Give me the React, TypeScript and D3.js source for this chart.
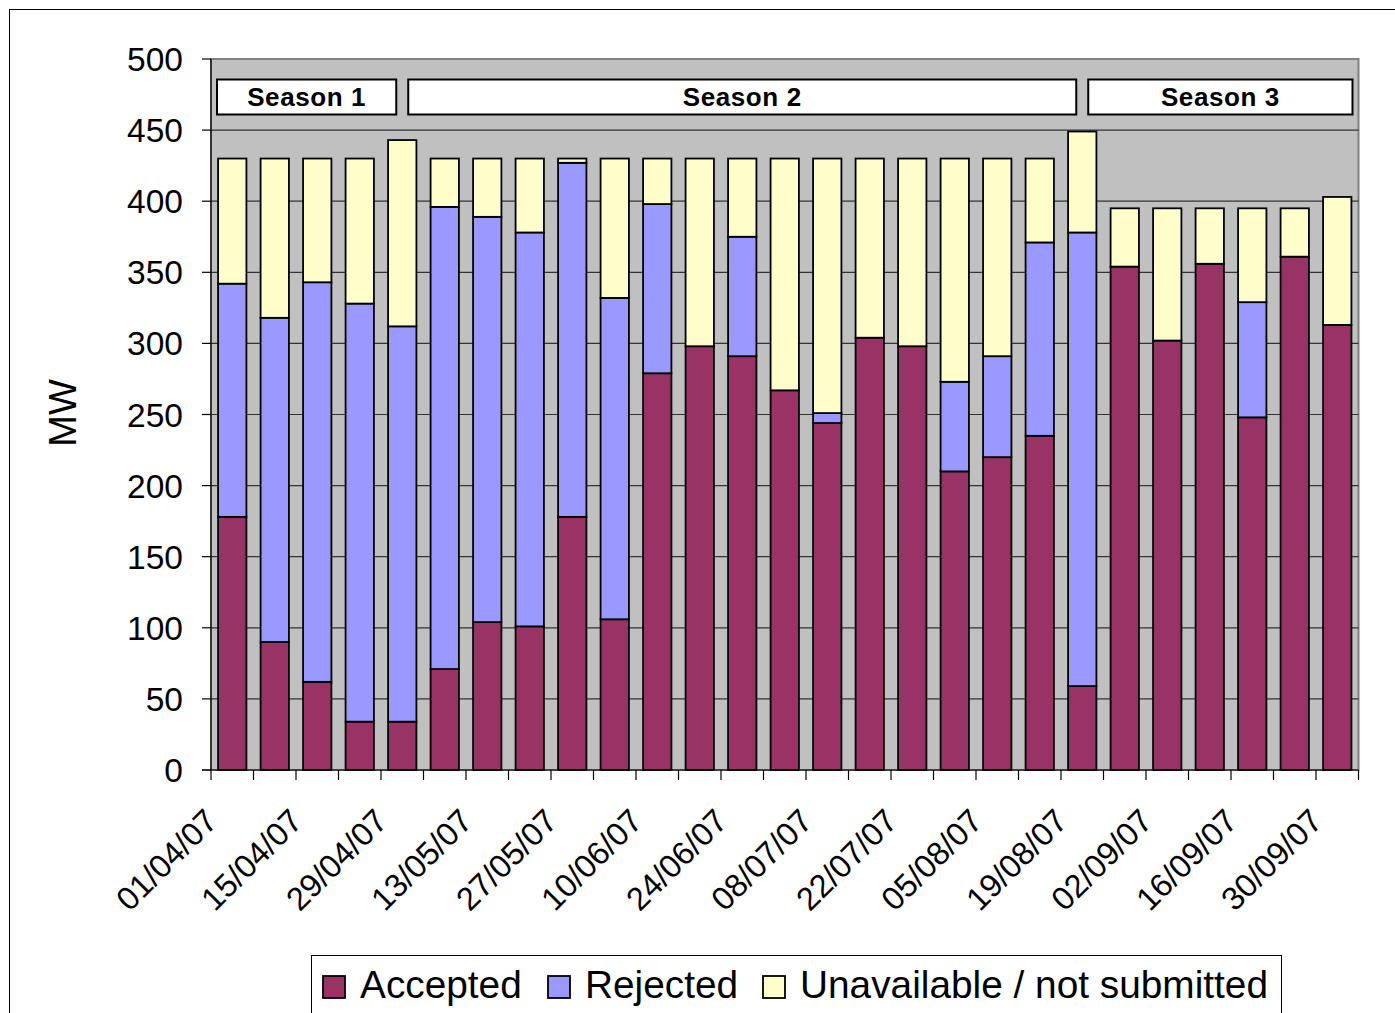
import React from "react";
import * as d3 from "d3";

const weeks = [
  "01/04/07", "08/04/07", "15/04/07", "22/04/07", "29/04/07", "06/05/07", "13/05/07",
  "20/05/07", "27/05/07", "03/06/07", "10/06/07", "17/06/07", "24/06/07", "01/07/07",
  "08/07/07", "15/07/07", "22/07/07", "29/07/07", "05/08/07", "12/08/07", "19/08/07",
  "26/08/07", "02/09/07", "09/09/07", "16/09/07", "23/09/07", "30/09/07",
];
const accepted = [178, 90, 62, 34, 34, 71, 104, 101, 178, 106, 279, 298, 291, 267, 244, 304, 298, 210, 220, 235, 59, 354, 302, 356, 248, 361, 313];
const rejected = [164, 228, 281, 294, 278, 325, 285, 277, 249, 226, 119, 0, 84, 0, 7, 0, 0, 63, 71, 136, 319, 0, 0, 0, 81, 0, 0];
const totals = [430, 430, 430, 430, 443, 430, 430, 430, 430, 430, 430, 430, 430, 430, 430, 430, 430, 430, 430, 430, 449, 395, 395, 395, 395, 395, 403];
const yTicks = [0, 50, 100, 150, 200, 250, 300, 350, 400, 450, 500];
const seasons = [
  { label: "Season 1", from: 0, to: 4.5 },
  { label: "Season 2", from: 4.5, to: 20.5 },
  { label: "Season 3", from: 20.5, to: 27 },
];
const seriesNames = ["Accepted", "Rejected", "Unavailable / not submitted"];
const seriesColors = ["#993366", "#9999FF", "#FFFFCC"];

const FONT = "'Liberation Sans', Arial, Helvetica, sans-serif";

export default function App() {
  const W = 1395, H = 1013;
  const left = 211, right = 1358.5, top = 59, bottom = 770;

  const rows = weeks.map((w, i) => ({
    week: w,
    Accepted: accepted[i],
    Rejected: rejected[i],
    Unavailable: totals[i] - accepted[i] - rejected[i],
  }));
  const stack = d3.stack<any>().keys(["Accepted", "Rejected", "Unavailable"]);
  const layers = stack(rows);

  const x = d3.scaleBand<string>().domain(weeks).range([left, right]).paddingInner(1 / 3).paddingOuter(1 / 6);
  const xLin = d3.scaleLinear().domain([0, weeks.length]).range([left, right]);
  const y = d3.scaleLinear().domain([0, 500]).range([bottom, top]);

  const legendX = [323, 548, 763];

  return (
    <svg width={W} height={H} style={{ position: "absolute", left: 0, top: 0, background: "#fff" }} fontFamily={FONT}>
      <rect x={9.5} y={9.5} width={W + 20} height={H + 20} fill="#fff" stroke="#000" strokeWidth={1} />
      {/* plot area */}
      <rect x={left} y={top} width={right - left} height={bottom - top} fill="#C0C0C0" stroke="#808080" strokeWidth={2} />
      {/* gridlines */}
      {yTicks.filter((t) => t > 0 && t < 500).map((t) => (
        <line key={t} x1={left} x2={right} y1={y(t)} y2={y(t)} stroke="#333" strokeWidth={1.2} />
      ))}
      {/* season boxes */}
      {seasons.map((s) => {
        const x0 = xLin(s.from) + 6, x1 = xLin(s.to) - 6;
        return (
          <g key={s.label}>
            <rect x={x0} y={79.5} width={x1 - x0} height={35} fill="#fff" stroke="#000" strokeWidth={2} />
            <text x={(x0 + x1) / 2} y={106} textAnchor="middle" fontSize={26} fontWeight="bold" letterSpacing={0.6} fill="#000">{s.label}</text>
          </g>
        );
      })}
      {/* bars */}
      {layers.map((layer, li) => (
        <g key={layer.key} fill={seriesColors[li]}>
          {layer.map((d, i) => (d[1] - d[0] > 0 ? (
            <rect key={i} x={x(weeks[i])} y={y(d[1])} width={x.bandwidth()} height={y(d[0]) - y(d[1])} stroke="#000" strokeWidth={1.8} />
          ) : null))}
        </g>
      ))}
      {/* y axis */}
      <line x1={left} x2={left} y1={top} y2={bottom} stroke="#000" strokeWidth={1.2} />
      {yTicks.map((t) => (
        <g key={t}>
          <line x1={left - 9} x2={left} y1={y(t)} y2={y(t)} stroke="#000" strokeWidth={1.2} />
          <text x={183} y={y(t)} dy="0.36em" textAnchor="end" fontSize={33.5} fill="#000">{t}</text>
        </g>
      ))}
      {/* x axis */}
      <line x1={left - 9} x2={right} y1={bottom} y2={bottom} stroke="#000" strokeWidth={1.2} />
      {d3.range(weeks.length + 1).map((i) => (
        <line key={i} x1={xLin(i)} x2={xLin(i)} y1={bottom} y2={bottom + 10} stroke="#000" strokeWidth={1.2} />
      ))}
      {weeks.map((w, i) => (i % 2 === 0 ? (
        <text key={w} transform={`translate(${xLin(i + 0.5) - 13},${823}) rotate(-45)`} textAnchor="end" fontSize={32.5} fill="#000">{w}</text>
      ) : null))}
      {/* y title */}
      <text transform={`translate(${76},${413}) rotate(-90)`} textAnchor="middle" fontSize={38} fill="#000">MW</text>
      {/* legend */}
      <rect x={311.5} y={955.5} width={970} height={100} fill="#fff" stroke="#000" strokeWidth={1} />
      {seriesNames.map((n, i) => (
        <g key={n}>
          <rect x={legendX[i]} y={976} width={22} height={22} fill={seriesColors[i]} stroke="#000" strokeWidth={1.8} />
          <text x={legendX[i] + 37} y={998} fontSize={38.8} fill="#000">{n}</text>
        </g>
      ))}
    </svg>
  );
}
